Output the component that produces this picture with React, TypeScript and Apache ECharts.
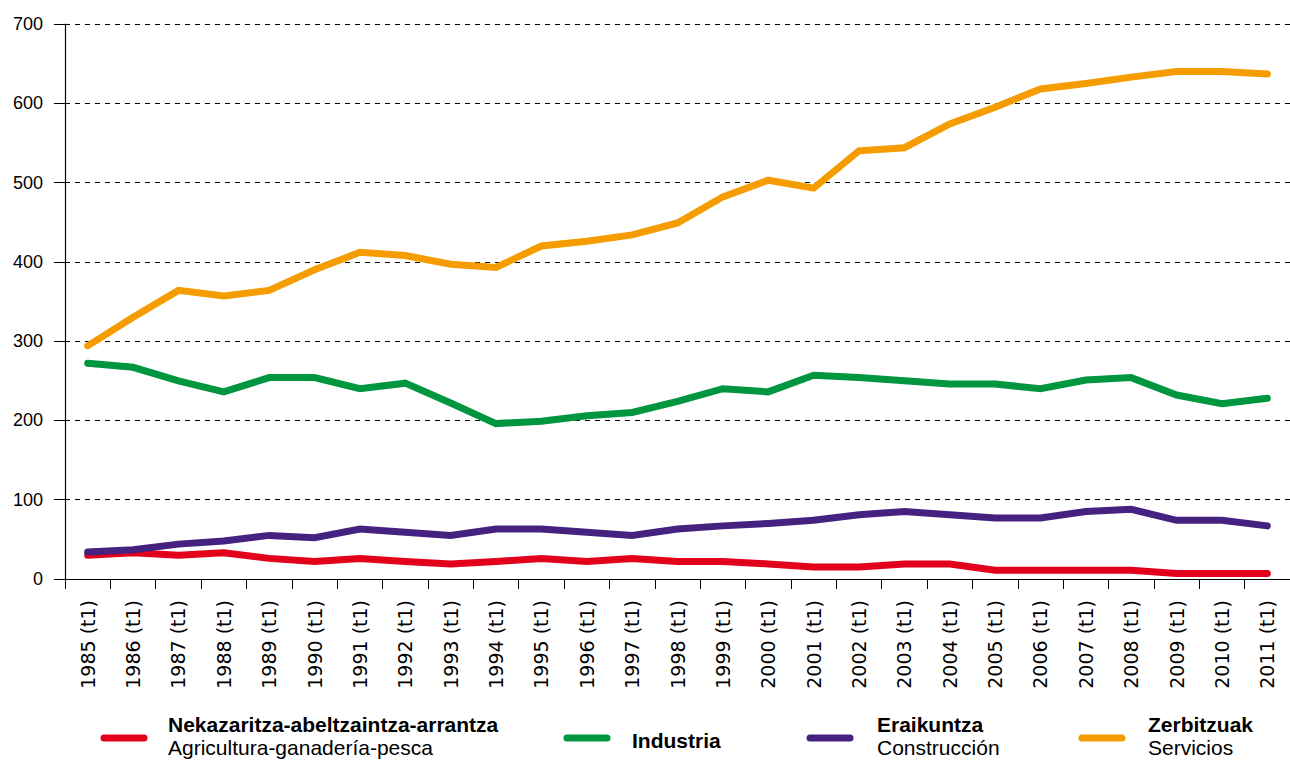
import React, { useEffect, useRef } from "react";
import * as echarts from "echarts";

const years = [
  "1985", "1986", "1987", "1988", "1989", "1990", "1991", "1992", "1993",
  "1994", "1995", "1996", "1997", "1998", "1999", "2000", "2001", "2002",
  "2003", "2004", "2005", "2006", "2007", "2008", "2009", "2010", "2011",
];
const categories = years.map((y) => `${y} (t1)`);

const agriculture = [30, 33, 30, 33, 26, 22, 26, 22, 19, 22, 26, 22, 26, 22, 22, 19, 15, 15, 19, 19, 11, 11, 11, 11, 7, 7, 7];
const industry = [272, 267, 250, 236, 254, 254, 240, 247, 222, 196, 199, 206, 210, 224, 240, 236, 257, 254, 250, 246, 246, 240, 251, 254, 232, 221, 228];
const construction = [34, 37, 44, 48, 55, 52, 63, 59, 55, 63, 63, 59, 55, 63, 67, 70, 74, 81, 85, 81, 77, 77, 85, 88, 74, 74, 67];
const services = [294, 330, 364, 357, 364, 390, 412, 408, 397, 393, 420, 426, 434, 449, 482, 503, 493, 540, 544, 574, 595, 618, 625, 633, 640, 640, 637];

const seriesNamesEu = ["Nekazaritza-abeltzaintza-arrantza", "Industria", "Eraikuntza", "Zerbitzuak"];
const seriesNamesEs = ["Agricultura-ganadería-pesca", "", "Construcción", "Servicios"];
const seriesColors = ["#e2001a", "#00963f", "#452180", "#f59c00"];
const seriesData = [agriculture, industry, construction, services];

const FONT = "'Liberation Sans', Arial, Helvetica, sans-serif";
const XFONT = "'DejaVu Sans', 'Liberation Sans', Arial, sans-serif";

export default function App() {
  const ref = useRef<HTMLDivElement>(null);

  useEffect(() => {
    if (!ref.current) return;
    const chart = echarts.init(ref.current, undefined, { renderer: "svg" });

    const legendLineX = [100, 563, 806, 1078];
    const legendTextX = [168, 632, 877, 1148];
    const graphics: any[] = [];
    seriesNamesEu.forEach((name, i) => {
      const x = legendLineX[i];
      graphics.push({
        type: "line",
        shape: { x1: x + 4, y1: 738, x2: x + 44, y2: 738 },
        style: { stroke: seriesColors[i], lineWidth: 7, lineCap: "round" },
      });
      const hasSub = seriesNamesEs[i] !== "";
      graphics.push({
        type: "text",
        x: legendTextX[i],
        y: hasSub ? 724 : 740,
        style: {
          text: name,
          font: `bold 21px ${FONT}`,
          fill: "#000",
          textVerticalAlign: "middle",
          verticalAlign: "middle",
        },
      });
      if (hasSub) {
        graphics.push({
          type: "text",
          x: legendTextX[i],
          y: 747,
          style: {
            text: seriesNamesEs[i],
            font: `21px ${FONT}`,
            fill: "#000",
            textVerticalAlign: "middle",
            verticalAlign: "middle",
          },
        });
      }
    });

    chart.setOption({
      animation: false,
      backgroundColor: "#ffffff",
      textStyle: { fontFamily: FONT },
      grid: { left: 65, right: -6, top: 24, bottom: 181, containLabel: false },
      xAxis: {
        type: "category",
        data: categories,
        boundaryGap: true,
        axisLine: { show: true, lineStyle: { color: "#000", width: 1.2 } },
        axisTick: { show: true, length: 10, lineStyle: { color: "#000" }, alignWithLabel: false },
        axisLabel: {
          rotate: 90,
          interval: 0,
          margin: 21,
          color: "#000",
          fontSize: 19,
          fontFamily: XFONT,
        },
        splitLine: { show: false },
      },
      yAxis: {
        type: "value",
        min: 0,
        max: 700,
        interval: 100,
        axisLine: { show: true, lineStyle: { color: "#000", width: 1.2 } },
        axisTick: { show: true, length: 11, lineStyle: { color: "#000" } },
        axisLabel: { color: "#000", fontSize: 18, margin: 22, fontFamily: FONT },
        splitLine: {
          show: true,
          lineStyle: { color: "#000", type: [5, 5], width: 1 },
        },
      },
      series: seriesData.map((d, i) => ({
        name: seriesNamesEu[i],
        type: "line",
        data: d,
        symbol: "none",
        lineStyle: { color: seriesColors[i], width: 7, cap: "round", join: "miter" },
        itemStyle: { color: seriesColors[i] },
        z: 3 + i,
      })),
      graphic: graphics,
    });

    return () => chart.dispose();
  }, []);

  return (
    <div
      ref={ref}
      style={{ position: "fixed", left: 0, top: 0, width: 1290, height: 760, background: "#fff" }}
    />
  );
}
